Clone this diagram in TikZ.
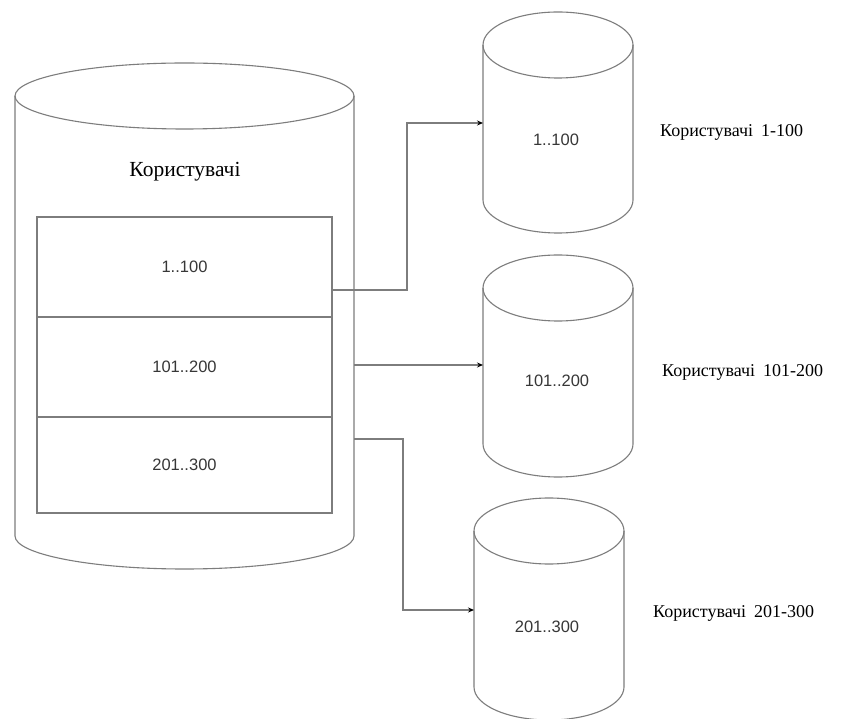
\documentclass[tikz,border=0pt]{standalone}
\usepackage{fontspec}
\setmainfont{Liberation Serif}
\newfontfamily\numfont{Liberation Sans}
\usetikzlibrary{arrows.meta}
\definecolor{linegray}{RGB}{125,125,125}
\definecolor{numgray}{RGB}{55,55,55}
\tikzset{
  shapeline/.style={draw=linegray, line width=1.1pt},
  rowbox/.style={draw=linegray, line width=1.1pt, minimum width=295pt, inner sep=0pt,
                 font=\numfont\fontsize{16.5}{18}\selectfont, text=numgray},
  numtext/.style={font=\numfont\fontsize{16.5}{18}\selectfont, text=numgray, inner sep=0pt},
  labeltext/.style={font=\fontsize{18}{20}\selectfont, anchor=west, inner sep=0pt},
  titletext/.style={font=\fontsize{21.5}{24}\selectfont, inner sep=0pt},
  link/.style={draw=linegray, line width=1.1pt, -{Stealth[length=6pt,width=5pt,color=black]}}
}
% cylinder: #1 left x, #2 right x, #3 top ellipse centre y, #4 bottom ellipse centre y, #5 y radius
\newcommand{\mycyl}[5]{%
  \pgfmathsetmacro{\rx}{(#2-#1)/2}%
  \pgfmathsetmacro{\cx}{(#2+#1)/2}%
  \draw[shapeline] (#1,#3) -- (#1,#4) arc[start angle=180, end angle=360, x radius=\rx, y radius=#5] -- (#2,#3);
  \draw[shapeline] (\cx,#3) ellipse[x radius=\rx, y radius=#5];
}
\begin{document}
\begin{tikzpicture}[x=1pt,y=1pt]
\useasboundingbox (0,0) rectangle (843,718);
\fill[white] (0,0) rectangle (843,718);

% big cylinder
\mycyl{15}{354}{622}{182}{33}
\node[titletext] (title) at (185,546) {Користувачі};
\node[rowbox, minimum height=100pt] (r1) at (184.5,451) {1..100};
\node[rowbox, minimum height=100pt] (r2) at (184.5,351) {101..200};
\node[rowbox, minimum height=96pt]  (r3) at (184.5,253) {201..300};

% small cylinders
\mycyl{483}{633}{673}{518}{33}
\node[numtext] (c1) at (556,578) {1..100};
\mycyl{483}{633}{430}{274}{33}
\node[numtext] (c2) at (557,337) {101..200};
\mycyl{474}{624}{187}{31}{33}
\node[numtext] (c3) at (547,91) {201..300};

% labels
\node[labeltext] (l1) at (660,586) {Користувачі\hspace{0.45em}1-100};
\node[labeltext] (l2) at (662,346) {Користувачі\hspace{0.45em}101-200};
\node[labeltext] (l3) at (653,105) {Користувачі\hspace{0.45em}201-300};

% connector end points
\coordinate (s1) at (332,428);
\coordinate (e1) at (483,595);
\coordinate (s2) at (354,353);
\coordinate (e2) at (483,353);
\coordinate (s3) at (354,279);
\coordinate (e3) at (474,108);

\draw[link] (s1) -- (407,428) |- (e1);
\draw[link] (s2) -- (e2);
\draw[link] (s3) -- (403,279) |- (e3);
\end{tikzpicture}
\end{document}
